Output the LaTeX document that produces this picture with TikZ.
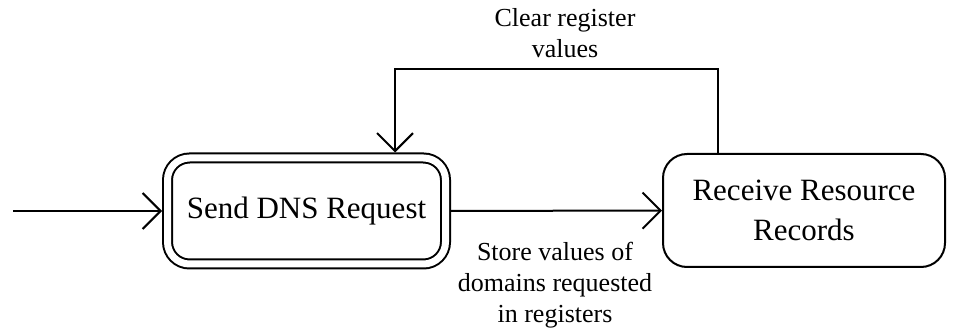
\documentclass[tikz,border=0pt]{standalone}
\usepackage{fontspec}
\setmainfont{Liberation Serif}
\usetikzlibrary{positioning,arrows.meta}

\tikzstyle{every node}=[align=center, inner sep=2pt]
\tikzstyle{state}=[draw=black, line width=1pt, rounded corners=12pt, font={\fontsize{15.5}{20}\selectfont}]
\tikzstyle{initial}=[state, double, double distance=3.5pt, outer sep=2.75pt, rounded corners=11pt]
\tikzstyle{trans}=[font={\fontsize{13}{15.5}\selectfont}]
\tikzstyle{arr}=[line width=1pt, -{Straight Barb[length=9pt,width=18pt,line width=1pt]}]

\begin{document}
\begin{tikzpicture}[x=0.5pt, y=-0.5pt]
    \useasboundingbox (0,0) rectangle (953,331);
    \node [initial, minimum width=139pt, minimum height=53pt] (send) at (306.5,211) {Send DNS Request};
    \node [state, minimum width=141pt, minimum height=56.5pt] (recv) at (804,210.5) {Receive Resource\\Records};
    \coordinate (start) at (13,211);
    \coordinate (back) at (395,69);
    \draw [arr] (start) -- (send);
    \draw [arr] (send) -- (recv);
    \draw [arr] ([xshift=-43pt]recv.north) |- (back) -- (back |- send.north);
    \node [trans] (clear) at (565,33) {Clear register\\values};
    \node [trans] (store) at (555,285) {Store values of\\domains requested\\in registers};
\end{tikzpicture}
\end{document}
